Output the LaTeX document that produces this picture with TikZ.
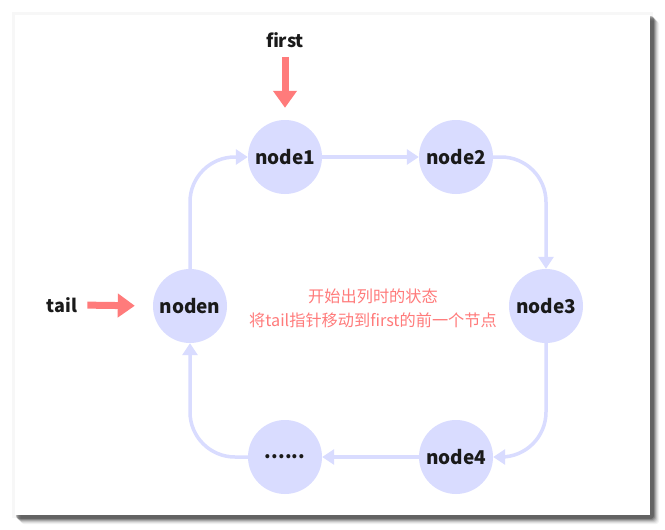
\documentclass[tikz,border=0pt]{standalone}
\usepackage{fontspec}
\setmainfont{Noto Sans CJK SC}
\usetikzlibrary{arrows.meta}
\definecolor{nodecol}{HTML}{D9DCFF}
\definecolor{redcol}{HTML}{FF7B7B}
\definecolor{txtcol}{HTML}{1A1A1A}
\tikzset{
  lnode/.style={circle, fill=nodecol, minimum size=74pt, inner sep=0pt, font=\fontsize{19}{19}\selectfont\bfseries, text=txtcol},
  edge/.style={draw=nodecol, line width=3.5pt, rounded corners=45pt, -{Triangle[width=15pt,length=12pt]}},
  redarrow/.style={draw=redcol, line width=7pt, -{Triangle[width=23pt,length=17pt]}},
  lbl/.style={inner sep=0pt, font=\fontsize{18}{18}\selectfont\bfseries, text=txtcol},
  note/.style={text=redcol, font=\fontsize{16.2}{24}\selectfont, align=center}
}
\begin{document}
\begin{tikzpicture}[x=1pt,y=-1pt]
\useasboundingbox (0,0) rectangle (665,530);
% card shadow
\foreach \o/\a in {9/0.05,8/0.07,7/0.1,6/0.15,5/0.2,4/0.26}{
  \fill[black, opacity=\a, rounded corners=3pt] (15+\o-3,15+\o-3) rectangle (650+\o,515+\o);
}
\fill[black, opacity=0.03] (12,12) rectangle (653,518);
\fill[white] (15,15) rectangle (650,515);
% nodes
\node[lnode] (n1) at (285,157) {node1};
\node[lnode] (n2) at (456,157) {node2};
\node[lnode] (n3) at (546,306) {node3};
\node[lnode] (n4) at (456,457) {node4};
\node[lnode] (n5) at (285,457) {......};
\node[lnode] (n0) at (190,306) {noden};
% edges
\draw[edge] (n1) -- (n2);
\draw[edge] (n2.east) -| (n3.north);
\draw[edge] (n3.south) |- (n4.east);
\draw[edge] (n4) -- (n5);
\draw[edge] (n5.west) -| (n0.south);
\draw[edge] (n0.north) |- (n1.west);
% labels
\node[lbl] (first) at (285,40) {first};
\node[lbl] (tail) at (62,305) {tail};
\draw[redarrow, shorten <=9pt, shorten >=12pt] (first.south) -- (n1.north);
\draw[redarrow, shorten <=10pt, shorten >=18pt] (tail.east) -- (n0.west);
\node[note] (note) at (373,308) {开始出列时的状态\\将tail指针移动到first的前一个节点};
\end{tikzpicture}
\end{document}
